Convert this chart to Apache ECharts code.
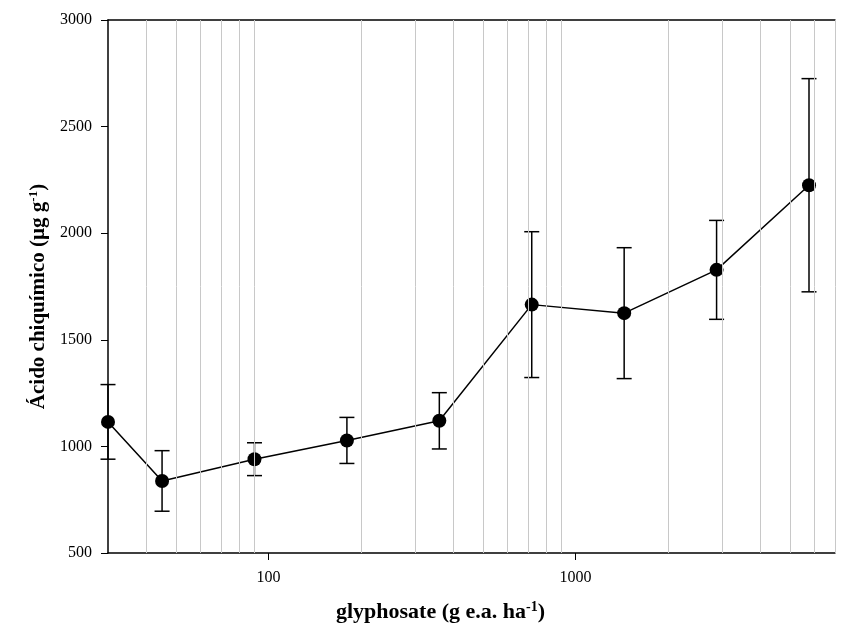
<!DOCTYPE html>
<html>
<head>
<meta charset="utf-8">
<script src="https://cdn.jsdelivr.net/npm/echarts@6/dist/echarts.min.js"></script>
<style>html,body{margin:0;padding:0;background:#fff}#c{width:842px;height:632px}</style>
</head>
<body>
<div id="c"></div>
<script>
var doses = [30, 45, 90, 180, 360, 720, 1440, 2880, 5760];
var means = [1115, 838, 940, 1028, 1120, 1665, 1625, 1828, 2225];
var errors = [175, 142, 77, 108, 132, 342, 307, 232, 500];
var xMajorTicks = [100, 1000];
var xGridValues = [40, 50, 60, 70, 80, 90, 200, 300, 400, 500, 600, 700, 800, 900, 2000, 3000, 4000, 5000, 6000, 7000];

var FONT = '"Liberation Serif", "Times New Roman", serif';
var chart = echarts.init(document.getElementById('c'), null, {renderer: 'canvas'});

var pts = doses.map(function (d, i) { return [d, means[i]]; });
var errData = doses.map(function (d, i) { return [d, means[i] - errors[i], means[i] + errors[i]]; });
function plain(v) { return String(Math.round(v)); }

chart.setOption({
  animation: false,
  grid: {left: 108, right: 7, top: 20, bottom: 79, containLabel: false},
  xAxis: [{
    type: 'log', logBase: 10, min: 30, max: 7000,
    axisLine: {show: true, onZero: false, lineStyle: {color: '#000', width: 1.5}},
    axisTick: {show: true, inside: false, length: 7, lineStyle: {color: '#000', width: 1}, customValues: xMajorTicks},
    axisLabel: {show: true, margin: 17, fontFamily: FONT, fontSize: 16, color: '#000', customValues: xMajorTicks, formatter: plain},
    splitLine: {show: false},
    name: '{b|glyphosate (g e.a. ha}{s|-1}{b|)}',
    nameLocation: 'middle', nameGap: 47,
    nameTextStyle: {padding: [0, 62, 0, 0], rich: {
      b: {fontFamily: FONT, fontSize: 22, fontWeight: 'bold', color: '#000'},
      s: {fontFamily: FONT, fontSize: 14, fontWeight: 'bold', color: '#000', verticalAlign: 'top', padding: [0, 0, 10, 0]}
    }}
  }, {
    type: 'log', logBase: 10, min: 30, max: 7000, position: 'top',
    axisLine: {show: true, onZero: false, lineStyle: {color: '#000', width: 1.5}},
    axisTick: {show: false}, axisLabel: {show: false}, splitLine: {show: false}
  }],
  yAxis: {
    type: 'value', min: 500, max: 3000, interval: 500,
    axisLine: {show: true, onZero: false, lineStyle: {color: '#000', width: 1.5}},
    axisTick: {show: true, inside: false, length: 7, lineStyle: {color: '#000', width: 1}},
    axisLabel: {margin: 16, fontFamily: FONT, fontSize: 16, color: '#000', formatter: plain},
    splitLine: {show: false},
    name: '{b|Ácido chiquímico (µg g}{s|-1}{b|)}',
    nameLocation: 'middle', nameGap: 52, nameRotate: 90,
    nameTextStyle: {padding: [0, 20, 0, 0], rich: {
      b: {fontFamily: FONT, fontSize: 21, fontWeight: 'bold', color: '#000'},
      s: {fontFamily: FONT, fontSize: 13, fontWeight: 'bold', color: '#000', verticalAlign: 'top', padding: [0, 0, 10, 0]}
    }}
  },
  series: [{
    type: 'line', data: [], silent: true,
    markLine: {
      silent: true, symbol: ['none', 'none'], label: {show: false},
      lineStyle: {color: '#c8c8c8', width: 1, type: 'solid'},
      data: xGridValues.map(function (v) { return {xAxis: v}; })
    }
  }, {
    type: 'custom', data: errData, clip: false, z: 3,
    renderItem: function (params, api) {
      var x = api.value(0);
      var lo = api.coord([x, api.value(1)]);
      var hi = api.coord([x, api.value(2)]);
      var hw = 7.5;
      var st = {stroke: '#000', lineWidth: 1.5};
      return {type: 'group', children: [
        {type: 'line', shape: {x1: lo[0], y1: lo[1], x2: hi[0], y2: hi[1]}, style: st},
        {type: 'line', shape: {x1: lo[0] - hw, y1: lo[1], x2: lo[0] + hw, y2: lo[1]}, style: st},
        {type: 'line', shape: {x1: hi[0] - hw, y1: hi[1], x2: hi[0] + hw, y2: hi[1]}, style: st}
      ]};
    }
  }, {
    type: 'line', data: pts, z: 4, clip: false,
    symbol: 'circle', symbolSize: 14, showSymbol: true,
    itemStyle: {color: '#000'},
    lineStyle: {color: '#000', width: 1.5}
  }]
});
</script>
</body>
</html>
